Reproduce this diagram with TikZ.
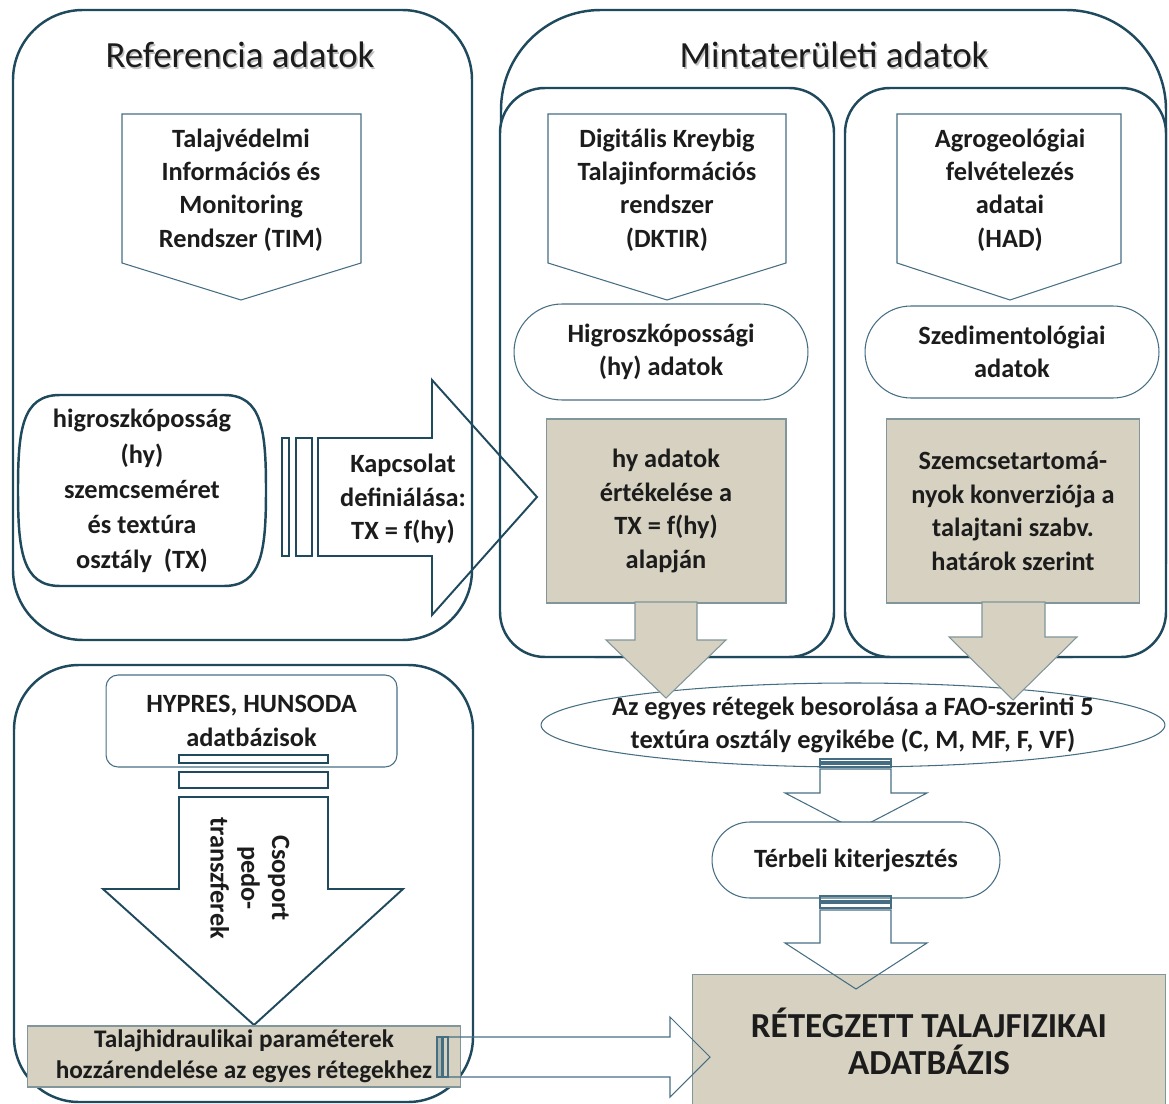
\documentclass[tikz,border=0pt]{standalone}
\usepackage{fontspec}
\setmainfont{Carlito}
\usetikzlibrary{shapes.geometric}

\definecolor{keret}{RGB}{31,73,93}
\definecolor{vonal}{RGB}{70,110,130}
\definecolor{drapp}{RGB}{214,209,192}
\definecolor{betu}{RGB}{28,28,28}

\tikzset{
  keretdoboz/.style={draw=keret,line width=1.4pt},
  vekony/.style={draw=vonal,line width=0.6pt},
  drappdoboz/.style={fill=drapp,draw=vonal!60!drapp,line width=0.6pt},
  csik/.style={draw=keret,line width=0.9pt,fill=white},
  cim/.style={font=\fontsize{21}{25}\selectfont,text=betu},
  cimarnyek/.style={font=\fontsize{21}{25}\selectfont,text=black!25},
  felirat/.style={font=\bfseries\fontsize{15}{19}\selectfont,text=betu,align=center,inner sep=0pt},
}

\begin{document}
\begin{tikzpicture}[x=0.02cm,y=-0.02cm]
  \useasboundingbox (0,0) rectangle (1169,1104);

  % nagy keretek
  \draw[keretdoboz,rounded corners=1.4cm] (13,10) rectangle (472,640);
  \draw[keretdoboz,rounded corners=2cm] (501,10) rectangle (1166,657);
  \draw[keretdoboz,fill=white,rounded corners=0.9cm] (500,88) rectangle (834,657);
  \draw[keretdoboz,fill=white,rounded corners=0.9cm] (845,88) rectangle (1166,657);
  \draw[keretdoboz,rounded corners=1.3cm] (14,665) rectangle (473,1102);

  \node[cimarnyek] (refarnyek) at (241.5,56.5) {Referencia adatok};
  \node[cim] (refcim) at (240,55) {Referencia adatok};
  \node[cimarnyek] (mintaarnyek) at (835.5,56.5) {Mintaterületi adatok};
  \node[cim] (mintacim) at (834,55) {Mintaterületi adatok};

  % forrasok
  \draw[vekony,fill=white] (122,114) -- (361,114) -- (361,263) -- (241,300) -- (122,263) -- cycle;
  \node[felirat] (tim) at (241,190) {Talajvédelmi\\Információs és\\Monitoring\\Rendszer (TIM)};
  \draw[vekony,fill=white] (548,114) -- (786,114) -- (786,263) -- (667,300) -- (548,263) -- cycle;
  \node[felirat] (dktir) at (667,190) {Digitális Kreybig\\Talajinformációs\\rendszer\\(DKTIR)};
  \draw[vekony,fill=white] (897,114) -- (1121,114) -- (1121,263) -- (1010,300) -- (897,263) -- cycle;
  \node[felirat] (had) at (1010,190) {Agrogeológiai\\felvételezés\\adatai\\(HAD)};

  \node[vekony,rounded corners=0.96cm,minimum width=5.88cm,minimum height=1.92cm,felirat] (hyadat) at (661,352) {Higroszkópossági\\(hy) adatok};
  \node[vekony,rounded corners=0.92cm,minimum width=5.88cm,minimum height=1.84cm,felirat] (szed) at (1012,352) {Szedimentológiai\\adatok};

  \node[drappdoboz,minimum width=4.8cm,minimum height=3.68cm,felirat] (hyert) at (666,511) {hy adatok\\értékelése a\\TX = f(hy)\\alapján};
  \node[drappdoboz,minimum width=5.06cm,minimum height=3.68cm,felirat] (konv) at (1013,511) {Szemcsetartomá-\\nyok konverziója a\\talajtani szabv.\\határok szerint};

  % referencia kapcsolat
  \draw[keretdoboz] (60,395) -- (224,395) .. controls (262,395) and (266,430) .. (266,490)
    .. controls (266,550) and (262,586) .. (224,586) -- (60,586)
    .. controls (22,586) and (18,550) .. (18,490) .. controls (18,430) and (22,395) .. (60,395);
  \node[felirat,font=\bfseries\fontsize{15}{20}\selectfont] (higro) at (142,491) {higroszkóposság\\(hy)\\szemcseméret\\és textúra\\osztály\ \ (TX)};

  \draw[csik] (282,438) rectangle (289,556);
  \draw[csik] (296,438) rectangle (312,556);
  \draw[keret,line width=1.1pt] (318,438) -- (432,438) -- (432,380) -- (537,497) -- (432,615) -- (432,556) -- (318,556) -- cycle;
  \node[felirat] (kapcs) at (403,499) {Kapcsolat\\definiálása:\\TX = f(hy)};

  % besorolas
  \coordinate (besorkp) at (853,725);
  \draw[vekony,fill=white] (besorkp) ellipse [x radius=6.24cm,y radius=0.84cm];
  \node[felirat] (besor) at (besorkp) {Az egyes rétegek besorolása a FAO-szerinti 5\\textúra osztály egyikébe (C, M, MF, F, VF)};

  \draw[drappdoboz] (635,602) -- (697,602) -- (697,640) -- (726,640) -- (666,698) -- (606,640) -- (635,640) -- cycle;
  \draw[drappdoboz] (982,602) -- (1045,602) -- (1045,637) -- (1077,637) -- (1013,700) -- (949,637) -- (982,637) -- cycle;

  \draw[vekony] (820,759) rectangle (891,762);
  \draw[vekony] (820,764) rectangle (891,767);
  \draw[vekony] (820,769) -- (891,769) -- (891,793) -- (927,793) -- (856,830) -- (785,793) -- (820,793) -- cycle;

  \node[vekony,fill=white,rounded corners=0.76cm,minimum width=5.76cm,minimum height=1.52cm,felirat] (terbeli) at (856,860) {Térbeli kiterjesztés};
  \draw[vekony] (820,896) rectangle (891,901);
  \draw[vekony] (820,903) rectangle (891,908);

  \node[drappdoboz,minimum width=9.48cm,minimum height=2.66cm,felirat,font=\bfseries\fontsize{20}{21}\selectfont] (ret) at (929,1041) {RÉTEGZETT TALAJFIZIKAI\\ADATBÁZIS};
  \draw[vekony] (820,910) -- (891,910) -- (891,943) -- (927,943) -- (856,989) -- (785,943) -- (820,943) -- cycle;

  % pedotranszfer
  \node[vekony,rounded corners=0.24cm,minimum width=5.82cm,minimum height=1.84cm,felirat] (hypres) at (251.5,721) {HYPRES, HUNSODA\\adatbázisok};
  \draw[csik] (179,755) rectangle (328,763);
  \draw[csik] (179,772) rectangle (328,788);
  \draw[keret,line width=1.1pt] (179,797) -- (328,797) -- (328,889) -- (403,889) -- (254,1025) -- (103,889) -- (179,889) -- cycle;
  \node[felirat,rotate=-90,font=\bfseries\fontsize{15}{17.5}\selectfont] (pedo) at (250,878) {Csoport\\pedo-\\transzferek};

  \node[drappdoboz,minimum width=8.68cm,minimum height=1.22cm,felirat,font=\bfseries\fontsize{14.4}{17.5}\selectfont] (hidr) at (244,1056.5) {Talajhidraulikai paraméterek\\hozzárendelése az egyes rétegekhez};
  \draw[vekony,fill=drapp!70!vonal] (437,1037) rectangle (442,1077);
  \draw[vekony,fill=drapp] (443,1037) rectangle (448,1077);
  \draw[vekony] (448,1037) -- (670,1037) -- (670,1017) -- (710,1057) -- (670,1097) -- (670,1077) -- (448,1077) -- cycle;
\end{tikzpicture}
\end{document}
